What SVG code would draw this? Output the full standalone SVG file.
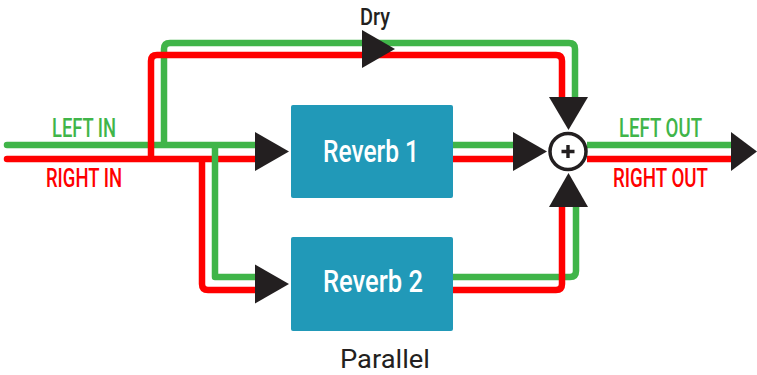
<svg xmlns="http://www.w3.org/2000/svg" width="757" height="375" viewBox="0 0 757 375">
<style>
.g{fill:none;stroke:#40B549;stroke-width:6.5;stroke-linejoin:round;stroke-linecap:butt}
.r{fill:none;stroke:#FF0000;stroke-width:6.5;stroke-linejoin:round;stroke-linecap:butt}
.cap{stroke-linecap:round}
.arr{fill:#231F20}
.box{fill:#2199B8}
.lbl{font-family:Roboto,"Liberation Sans",sans-serif;font-weight:500;font-size:26px}
.bt{font-family:Roboto,"Liberation Sans",sans-serif;font-weight:500;font-size:31px;fill:#FFFFFF}
.blk{font-family:Roboto,"Liberation Sans",sans-serif;fill:#231F20}
</style>
<g id="connectors">
<path class="g cap" d="M7,145 H255"/>
<path class="g" d="M164,145 V49 Q164,43 170,43 H569 Q575,43 575,49 V97"/>
<path class="r cap" d="M7,159 H255"/>
<path class="r" d="M151,159 V61 Q151,55 157,55 H556 Q562,55 562,61 V97"/>
<path class="r" d="M202,159 V284 Q202,290 208,290 H255"/>
<path class="g" d="M215,145 V277 H255"/>
<path class="g" d="M453,145 H514"/>
<path class="r" d="M453,159 H514"/>
<path class="g" d="M453,277 H570 Q576,277 576,271 V207"/>
<path class="r" d="M453,290 H556 Q562,290 562,284 V207"/>
<path class="g" d="M587,145 H731"/>
<path class="r" d="M587,159 H731"/>
<polygon class="arr" points="362,30 395,49 362,68"/>
<polygon class="arr" points="255,132 289,151.5 255,171"/>
<polygon class="arr" points="255,264.5 289,284 255,303.5"/>
<polygon class="arr" points="513,132 547,151.5 513,171"/>
<polygon class="arr" points="549,97 588,97 568.5,130"/>
<polygon class="arr" points="549,207 588,207 568.5,173"/>
<polygon class="arr" points="731,132 757,151.5 731,171"/>
</g>
<g id="reverb1">
<rect class="box" x="291" y="105" width="162" height="93" rx="2"/>
<text class="bt" x="323" y="161.7" textLength="96" lengthAdjust="spacingAndGlyphs">Reverb 1</text>
</g>
<g id="reverb2">
<rect class="box" x="291" y="237" width="162" height="94" rx="2"/>
<text class="bt" x="323" y="292.3" textLength="100" lengthAdjust="spacingAndGlyphs">Reverb 2</text>
</g>
<g id="sum">
<circle cx="568" cy="151.5" r="18" fill="#FFFFFF" stroke="#231F20" stroke-width="3.5"/>
<path d="M561.5,151.5 H574.5 M568,145 V158" stroke="#231F20" stroke-width="3.4" fill="none"/>
</g>
<g id="labels">
<text class="lbl" x="52" y="137.3" fill="#40B549" textLength="64" lengthAdjust="spacingAndGlyphs">LEFT IN</text>
<text class="lbl" x="46" y="187.3" fill="#FF0000" textLength="76" lengthAdjust="spacingAndGlyphs">RIGHT IN</text>
<text class="lbl" x="619" y="137.3" fill="#40B549" textLength="83" lengthAdjust="spacingAndGlyphs">LEFT OUT</text>
<text class="lbl" x="613" y="187.3" fill="#FF0000" textLength="95" lengthAdjust="spacingAndGlyphs">RIGHT OUT</text>
<text class="blk" x="360" y="25" font-size="23.5" font-weight="500" textLength="30" lengthAdjust="spacingAndGlyphs">Dry</text>
<text class="blk" x="340" y="368.3" font-size="25" font-weight="400" textLength="90" lengthAdjust="spacingAndGlyphs">Parallel</text>
</g>
</svg>
